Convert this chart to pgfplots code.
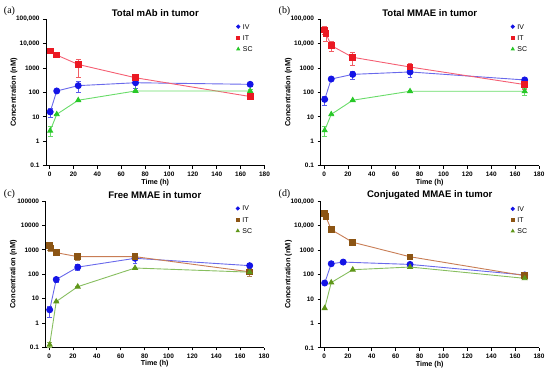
\documentclass[border=0pt]{standalone}
\usepackage{fontspec}
\setmainfont{Liberation Sans}
\newfontfamily\seriffont{Liberation Serif}
\usepackage{pgfplots}
\pgfplotsset{compat=1.18}
\usepackage{pgfplotstable}

\definecolor{ivm}{RGB}{20,20,230}
\definecolor{ivl}{RGB}{105,105,235}
\definecolor{itm}{RGB}{235,25,35}
\definecolor{itl}{RGB}{245,95,115}
\definecolor{scm}{RGB}{40,200,40}
\definecolor{scl}{RGB}{105,220,105}
\definecolor{itm2}{RGB}{140,85,20}
\definecolor{itl2}{RGB}{200,125,85}
\definecolor{scm2}{RGB}{95,150,25}
\definecolor{scl2}{RGB}{135,190,95}

\pgfplotstableread{
t c ep em
0.5 16 6 6
6 115 0 0
24 190 87 90
72 250 50 100
168 215 45 43
}\aIV
\pgfplotstableread{
t c ep em
0.5 5000 0 0
6 3400 0 0
24 1400 900 1000
72 400 40 40
168 68 12 12
}\aIT
\pgfplotstableread{
t c ep em
0.5 2.7 1.4 1.1
6 12.7 0 0
24 48 0 0
72 115 8 8
168 115 25 15
}\aSC
\pgfplotstableread{
t c ep em
0.5 52 20 22
6 355 30 30
24 550 200 210
72 690 310 290
168 325 40 45
}\bIV
\pgfplotstableread{
t c ep em
0.5 36000 14000 11000
1.5 26000 9000 14000
6 8300 3700 3300
24 2750 1550 1450
72 1100 400 400
168 210 50 70
}\bIT
\pgfplotstableread{
t c ep em
0.5 2.8 1.4 1.2
6 12.7 0 0
24 48 0 0
72 112 10 10
168 112 30 35
}\bSC
\pgfplotstableread{
t c ep em
0.5 3.5 1.6 1.8
6 61 14 16
24 196 54 46
72 450 150 170
168 225 35 35
}\cIV
\pgfplotstableread{
t c ep em
0.5 1480 520 480
1.5 1200 300 300
6 765 80 80
24 525 125 145
72 525 175 125
168 126 44 46
}\cIT
\pgfplotstableread{
t c ep em
0.5 0.13 0.04 0.03
6 7.6 0 0
24 31 0 0
72 180 20 20
168 122 20 20
}\cSC
\pgfplotstableread{
t c ep em
0.5 45 0 0
6 277 0 0
16 324 0 0
72 260 0 0
168 96 0 0
}\dIV
\pgfplotstableread{
t c ep em
0.5 32000 0 0
1.5 23500 0 0
6 6900 0 0
24 2100 0 0
72 535 0 0
168 90 0 0
}\dIT
\pgfplotstableread{
t c ep em
0.5 4.2 0 0
6 47 0 0
24 158 0 0
72 203 0 0
168 70 0 0
}\dSC

\pgfplotsset{
  every axis title shift=0pt,
  mypanel/.style={
    anchor=south west, scale only axis,
    width=218.5bp, height=146.5bp,
    xmin=-3, xmax=180,
    ymin=0.1, ymax=100000,
    xtick={0,20,...,180},
    ytick={0.1,1,10,100,1000,10000,100000},
    yminorticks=false, xminorticks=false,
    axis x line*=bottom, axis y line*=left,
    axis line style={line width=0.9bp, black},
    tick style={line width=0.8bp, black},
    tick align=outside, major tick length=3bp,
    /pgf/number format/assume math mode=true,
    ticklabel style={font=\bfseries\fontsize{6.5}{7}\selectfont},
    title style={font=\bfseries\fontsize{9.6}{11}\selectfont, at={(axis description cs:0.5,1)}, anchor=south, yshift=0bp, inner sep=2bp},
    xlabel={Time (h)},
    ylabel={Concentration (nM)},
    xlabel style={font=\bfseries\fontsize{7.2}{8}\selectfont, at={(axis description cs:0.5,0)}, anchor=center, yshift=-16.5bp},
    ylabel style={font=\bfseries\fontsize{7.5}{8}\selectfont, at={(axis description cs:-0.1465,0.5)}, anchor=center},
    clip=false,
    legend style={draw=none, fill=none, at={(rel axis cs:0.858,0.985)}, anchor=north west,
      font=\fontsize{7}{8}\selectfont, row sep=5bp, column sep=2.5bp,
      nodes={inner sep=0.6bp, text height=5bp, text depth=0bp}},
    legend cell align=left,
  },
}

\begin{document}
\begin{tikzpicture}
\path[use as bounding box] (0,0) rectangle (550bp,375bp);

% (a)
\begin{semilogyaxis}[mypanel, at={(46bp,209.3bp)}, title={Total mAb in tumor},
  yticklabels={0.1,1,10,100,1000,{10,000},{100,000}},
  legend image code/.code={\draw[#1, mark size=1.6bp] plot coordinates {(0.06cm,0cm)};}]
\addplot[line width=0.9bp, color=ivl, mark=*, mark size=3bp, mark options={fill=ivm, draw=ivm},
  error bars/.cd, y dir=both, y explicit, error bar style={color=ivm!70!white, line width=0.6bp}, error mark options={rotate=90, mark size=2.4bp, line width=0.6bp, color=ivm!70!white}]
  table[x=t,y=c,y error plus=ep,y error minus=em]{\aIV};
\addplot[line width=0.9bp, color=itl, mark=square*, mark size=2.8bp, mark options={fill=itm, draw=itm},
  error bars/.cd, y dir=both, y explicit, error bar style={color=itm!70!white, line width=0.6bp}, error mark options={rotate=90, mark size=2.4bp, line width=0.6bp, color=itm!70!white}]
  table[x=t,y=c,y error plus=ep,y error minus=em]{\aIT};
\addplot[line width=0.9bp, color=scl, mark=triangle*, mark size=2.8bp, mark options={fill=scm, draw=scm},
  error bars/.cd, y dir=both, y explicit, error bar style={color=scm!70!white, line width=0.6bp}, error mark options={rotate=90, mark size=2.4bp, line width=0.6bp, color=scm!70!white}]
  table[x=t,y=c,y error plus=ep,y error minus=em]{\aSC};
\legend{IV,IT,SC}
\end{semilogyaxis}

% (b)
\begin{semilogyaxis}[mypanel, at={(320.5bp,209.3bp)}, title={Total MMAE in tumor},
  yticklabels={0.1,1,10,100,1000,{10,000},{100,000}},
  legend image code/.code={\draw[#1, mark size=1.6bp] plot coordinates {(0.06cm,0cm)};}]
\addplot[line width=0.9bp, color=ivl, mark=*, mark size=3bp, mark options={fill=ivm, draw=ivm},
  error bars/.cd, y dir=both, y explicit, error bar style={color=ivm!70!white, line width=0.6bp}, error mark options={rotate=90, mark size=2.4bp, line width=0.6bp, color=ivm!70!white}]
  table[x=t,y=c,y error plus=ep,y error minus=em]{\bIV};
\addplot[line width=0.9bp, color=itl, mark=square*, mark size=2.8bp, mark options={fill=itm, draw=itm},
  error bars/.cd, y dir=both, y explicit, error bar style={color=itm!70!white, line width=0.6bp}, error mark options={rotate=90, mark size=2.4bp, line width=0.6bp, color=itm!70!white}]
  table[x=t,y=c,y error plus=ep,y error minus=em]{\bIT};
\addplot[line width=0.9bp, color=scl, mark=triangle*, mark size=2.8bp, mark options={fill=scm, draw=scm},
  error bars/.cd, y dir=both, y explicit, error bar style={color=scm!70!white, line width=0.6bp}, error mark options={rotate=90, mark size=2.4bp, line width=0.6bp, color=scm!70!white}]
  table[x=t,y=c,y error plus=ep,y error minus=em]{\bSC};
\legend{IV,IT,SC}
\end{semilogyaxis}

% (c)
\begin{semilogyaxis}[mypanel, at={(45.5bp,27.5bp)}, title={Free MMAE in tumor},
  yticklabels={0.1,1,10,100,1000,10000,100000},
  legend image code/.code={\draw[#1, mark size=1.6bp] plot coordinates {(0.06cm,0cm)};}]
\addplot[line width=0.9bp, color=ivl, mark=*, mark size=3bp, mark options={fill=ivm, draw=ivm},
  error bars/.cd, y dir=both, y explicit, error bar style={color=ivm!70!white, line width=0.6bp}, error mark options={rotate=90, mark size=2.4bp, line width=0.6bp, color=ivm!70!white}]
  table[x=t,y=c,y error plus=ep,y error minus=em]{\cIV};
\addplot[line width=0.9bp, color=itl2, mark=square*, mark size=2.8bp, mark options={fill=itm2, draw=itm2},
  error bars/.cd, y dir=both, y explicit, error bar style={color=itm2!70!white, line width=0.6bp}, error mark options={rotate=90, mark size=2.4bp, line width=0.6bp, color=itm2!70!white}]
  table[x=t,y=c,y error plus=ep,y error minus=em]{\cIT};
\addplot[line width=0.9bp, color=scl2, mark=triangle*, mark size=2.8bp, mark options={fill=scm2, draw=scm2},
  error bars/.cd, y dir=both, y explicit, error bar style={color=scm2!70!white, line width=0.6bp}, error mark options={rotate=90, mark size=2.4bp, line width=0.6bp, color=scm2!70!white}]
  table[x=t,y=c,y error plus=ep,y error minus=em]{\cSC};
\legend{IV,IT,SC}
\end{semilogyaxis}

% (d)
\begin{semilogyaxis}[mypanel, at={(320.5bp,27.2bp)}, title={Conjugated MMAE in tumor},
  yticklabels={0.1,1,10,100,1000,{10,000},{100,000}},
  legend image code/.code={\draw[#1, mark size=1.6bp] plot coordinates {(0.06cm,0cm)};}]
\addplot[line width=0.9bp, color=ivl, mark=*, mark size=3bp, mark options={fill=ivm, draw=ivm}]
  table[x=t,y=c]{\dIV};
\addplot[line width=0.9bp, color=itl2, mark=square*, mark size=2.8bp, mark options={fill=itm2, draw=itm2}]
  table[x=t,y=c]{\dIT};
\addplot[line width=0.9bp, color=scl2, mark=triangle*, mark size=2.8bp, mark options={fill=scm2, draw=scm2}]
  table[x=t,y=c]{\dSC};
\legend{IV,IT,SC}
\end{semilogyaxis}

\node[font=\seriffont\fontsize{10}{11}\selectfont] at (9.5bp,364bp) {(a)};
\node[font=\seriffont\fontsize{10}{11}\selectfont] at (284.5bp,364bp) {(b)};
\node[font=\seriffont\fontsize{10}{11}\selectfont] at (9.5bp,181bp) {(c)};
\node[font=\seriffont\fontsize{10}{11}\selectfont] at (284.5bp,181bp) {(d)};
\end{tikzpicture}
\end{document}
